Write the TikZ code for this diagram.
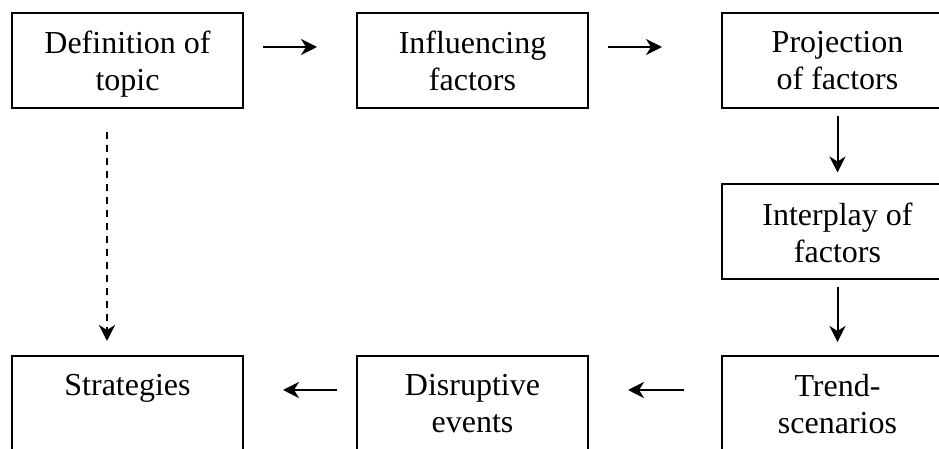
\documentclass[tikz,border=0pt]{standalone}
\usepackage{fontspec}
\setmainfont{Liberation Serif}
\usetikzlibrary{arrows.meta}
\begin{document}
\begin{tikzpicture}[x=1pt,y=1pt,
  box/.style={draw=black,line width=2pt,minimum width=231pt,minimum height=95pt,inner sep=0pt},
  lbl/.style={anchor=north,inner sep=0pt,align=center,font=\fontsize{32}{37}\selectfont},
  arr/.style={line width=2pt,-{Stealth[length=16pt,width=16pt,inset=5pt]}},
  darr/.style={arr,dash pattern=on 7pt off 6pt}]
\useasboundingbox (0,0) rectangle (939,449);
\clip (0,0) rectangle (939,449);
% boxes (centres, y measured upward)
\node[box] (def) at (127.5,388.5) {};
\node[box] (inf) at (472.5,388.5) {};
\node[box] (proj) at (837.5,388.5) {};
\node[box] (inter) at (837.5,217) {};
\node[box] (trend) at (837.5,45.5) {};
\node[box] (disr) at (472.5,45.5) {};
\node[box] (strat) at (127.5,45.5) {};
% labels
\node[lbl] (tdef) at ([yshift=-19pt]def.north) {Definition of\\topic};
\node[lbl] (tinf) at ([yshift=-19pt]inf.north) {Influencing\\factors};
\node[lbl] (tproj) at ([yshift=-19pt]proj.north) {Projection\\of factors};
\node[lbl] (tinter) at ([yshift=-19pt]inter.north) {Interplay of\\factors};
\node[lbl] (ttrend) at ([yshift=-19pt]trend.north) {Trend-\\scenarios};
\node[lbl] (tdisr) at ([yshift=-19pt]disr.north) {Disruptive\\events};
\node[lbl] (tstrat) at ([yshift=-19pt]strat.north) {Strategies};
% connectors
\draw[arr] ([xshift=19pt,yshift=13.5pt]def.east) -- ([xshift=-39pt,yshift=13.5pt]inf.west);
\draw[arr] ([xshift=19pt,yshift=13.5pt]inf.east) -- ([xshift=-59pt,yshift=13.5pt]proj.west);
\draw[arr] ([yshift=-7pt]proj.south) -- ([yshift=11pt]inter.north);
\draw[arr] ([yshift=-7pt]inter.south) -- ([yshift=13pt]trend.north);
\draw[arr] ([xshift=-37pt,yshift=13.5pt]trend.west) -- ([xshift=39pt,yshift=13.5pt]disr.east);
\draw[arr] ([xshift=-19pt,yshift=13.5pt]disr.west) -- ([xshift=39pt,yshift=13.5pt]strat.east);
\draw[darr] ([xshift=-20.5pt,yshift=-23pt]def.south) -- ([xshift=-20.5pt,yshift=14pt]strat.north);
\end{tikzpicture}
\end{document}
